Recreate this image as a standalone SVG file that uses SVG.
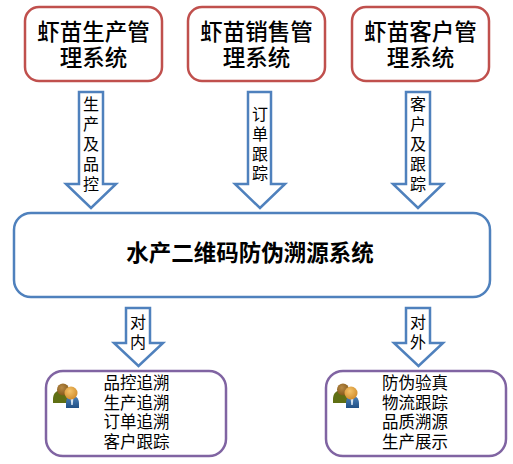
<svg xmlns="http://www.w3.org/2000/svg" width="513" height="464" viewBox="0 0 513 464">
<style>
text{font-family:"Liberation Sans","Noto Sans CJK SC",sans-serif;fill:#000;text-anchor:middle}
.top{fill:#fff;stroke:#c0504d;stroke-width:2.5}
.mid{fill:#fff;stroke:#4f81bd;stroke-width:2.5}
.bot{fill:#fff;stroke:#8064a2;stroke-width:2.5}
.t{font-size:22.500px;font-weight:500}
.c{font-size:22.500px;font-weight:700}
.s{font-size:16.500px}
.v{font-size:16px}
.a{fill:#fff;stroke:#4f81bd;stroke-width:2.5}
</style>
<defs>
<radialGradient id="ho" cx="0.4" cy="0.35" r="0.7"><stop offset="0" stop-color="#f5c46a"/><stop offset="1" stop-color="#cf8a2a"/></radialGradient>
<radialGradient id="hb" cx="0.4" cy="0.35" r="0.7"><stop offset="0" stop-color="#b98a45"/><stop offset="1" stop-color="#7f5618"/></radialGradient>
<linearGradient id="bb" x1="0" y1="0" x2="0" y2="1"><stop offset="0" stop-color="#4f86bf"/><stop offset="1" stop-color="#1f4f85"/></linearGradient>
<g id="people">
<path d="M1 17c0-6 4-9 9-9s8 3 8 9v3c-2 1-4 1-7 1H1z" fill="#5f6f14"/>
<circle cx="11" cy="7.500" r="6" fill="url(#hb)"/>
<path d="M14 26v-5c0-5 3-8 6-8s7 3 7 8v5z" fill="url(#bb)"/>
<path d="M18.500 15h3l-.8 8h-1.400z" fill="#d5e4f2"/>
<circle cx="19" cy="11" r="6.500" fill="url(#ho)"/>
</g>
</defs>
<g id="connectors">
<path class="a" d="M79 92H103V184H116L91 208L66 184H79Z"/>
<path class="a" d="M248 92H271V184H285L260 208L235 184H248Z"/>
<path class="a" d="M406 92H430V184H443L418 208L393 184H406Z"/>
<path class="a" d="M126 308H150V343H163L138.500 366L114 343H126Z"/>
<path class="a" d="M406 308H430V343H443L418.500 366L394 343H406Z"/>
<text class="v" y="110"><tspan x="91">生</tspan><tspan x="91" dy="20">产</tspan><tspan x="91" dy="20">及</tspan><tspan x="91" dy="20">品</tspan><tspan x="91" dy="20">控</tspan></text>
<text class="v" y="120"><tspan x="260">订</tspan><tspan x="260" dy="20">单</tspan><tspan x="260" dy="20">跟</tspan><tspan x="260" dy="19">踪</tspan></text>
<text class="v" y="110"><tspan x="418">客</tspan><tspan x="418" dy="20">户</tspan><tspan x="418" dy="20">及</tspan><tspan x="418" dy="20">跟</tspan><tspan x="418" dy="20">踪</tspan></text>
<text class="v" y="328"><tspan x="138">对</tspan><tspan x="138" dy="20">内</tspan></text>
<text class="v" y="328"><tspan x="418">对</tspan><tspan x="418" dy="20">外</tspan></text>
</g>
<g id="node-production"><rect class="top" x="25" y="7" width="137" height="74" rx="14"/><text class="t" y="40"><tspan x="93.500">虾苗生产管</tspan><tspan x="93.500" dy="26">理系统</tspan></text></g>
<g id="node-sales"><rect class="top" x="188" y="7" width="137" height="74" rx="14"/><text class="t" y="40"><tspan x="256.500">虾苗销售管</tspan><tspan x="256.500" dy="26">理系统</tspan></text></g>
<g id="node-customer"><rect class="top" x="352" y="7" width="137" height="74" rx="14"/><text class="t" y="40"><tspan x="420.500">虾苗客户管</tspan><tspan x="420.500" dy="26">理系统</tspan></text></g>
<g id="node-center"><rect class="mid" x="14" y="213" width="476" height="84" rx="17"/><text class="c" x="250" y="261">水产二维码防伪溯源系统</text></g>
<g id="node-internal"><rect class="bot" x="46" y="371" width="180" height="85" rx="17"/><use href="#people" x="52" y="382"/>
<text class="s" y="389"><tspan x="136.500">品控追溯</tspan><tspan x="136.500" dy="19.500">生产追溯</tspan><tspan x="136.500" dy="19.500">订单追溯</tspan><tspan x="136.500" dy="19.500">客户跟踪</tspan></text></g>
<g id="node-external"><rect class="bot" x="326" y="371" width="180" height="85" rx="17"/><use href="#people" x="332" y="382"/>
<text class="s" y="389"><tspan x="415">防伪验真</tspan><tspan x="415" dy="19.500">物流跟踪</tspan><tspan x="415" dy="19.500">品质溯源</tspan><tspan x="415" dy="19.500">生产展示</tspan></text></g>
</svg>
